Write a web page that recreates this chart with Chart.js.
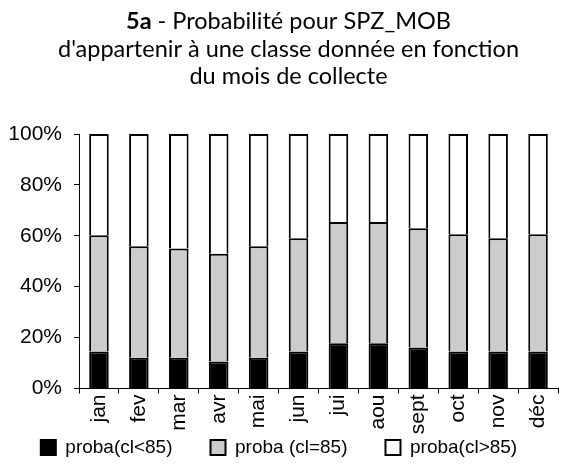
<!DOCTYPE html>
<html>
<head>
<meta charset="utf-8">
<script src="https://cdn.jsdelivr.net/npm/chart.js@4"></script>
<style>
  html, body { margin: 0; padding: 0; background: #fff; }
  #wrap { width: 577px; height: 467px; }
</style>
</head>
<body>
<div id="wrap"><canvas id="chart" width="577" height="467"></canvas></div>
<script>
// months of collection
const mois = ["jan", "fev", "mar", "avr", "mai", "jun", "jui", "aou", "sept", "oct", "nov", "déc"];

// share of each class, in %
const probaInf85 = [14.5, 12.1, 12.1, 10.6, 12.1, 14.5, 17.8, 17.8, 16.1, 14.5, 14.5, 14.5];
const probaEq85  = [45.7, 43.8, 42.9, 42.3, 43.8, 44.5, 47.6, 47.6, 46.9, 46.1, 44.5, 46.1];
const probaSup85 = [39.8, 44.1, 45.0, 47.1, 44.1, 41.0, 34.6, 34.6, 37.0, 39.4, 41.0, 39.4];

const seriesNames = ["proba(cl<85)", "proba (cl=85)", "proba(cl>85)"];
const titleBold = "5a";
const titleLines = [
    " - Probabilité pour SPZ_MOB",
    "d'appartenir à une classe donnée en fonction",
    "du mois de collecte"
];

const sans = "'Liberation Sans', Arial, sans-serif";
const titleFont = "Lato, 'Open Sans', sans-serif";

// title drawn by hand so "5a" can be bold
const titlePlugin = {
    id: "titre",
    afterDraw(chart) {
        const ctx = chart.ctx;
        const cx = chart.width / 2;
        ctx.save();
        ctx.fillStyle = "#000";
        ctx.textBaseline = "alphabetic";
        ctx.textAlign = "left";
        ctx.font = "bold 23.5px " + titleFont;
        const wb = ctx.measureText(titleBold).width;
        ctx.font = "23.5px " + titleFont;
        const wr = ctx.measureText(titleLines[0]).width;
        const x = cx - (wb + wr) / 2;
        ctx.font = "bold 23.5px " + titleFont;
        ctx.fillText(titleBold, x, 29);
        ctx.font = "23.5px " + titleFont;
        ctx.fillText(titleLines[0], x + wb, 29);
        ctx.textAlign = "center";
        ctx.fillText(titleLines[1], cx, 57);
        ctx.fillText(titleLines[2], cx, 84);
        ctx.restore();
    }
};

const ctx = document.getElementById("chart").getContext("2d");
new Chart(ctx, {
    type: "bar",
    data: {
        labels: mois,
        datasets: [
            { label: seriesNames[0], data: probaInf85, backgroundColor: "#000000" },
            { label: seriesNames[1], data: probaEq85, backgroundColor: "#cccccc" },
            { label: seriesNames[2], data: probaSup85, backgroundColor: "#ffffff" }
        ]
    },
    options: {
        responsive: false,
        animation: false,
        layout: { padding: { top: 134, right: 19, bottom: 0, left: 0 } },
        datasets: {
            bar: {
                borderColor: "#000",
                borderWidth: 2,
                barPercentage: 0.49,
                categoryPercentage: 1
            }
        },
        scales: {
            x: {
                stacked: true,
                // keep the axis thin so the legend sits close, and let the labels spill below
                afterFit: s => {
                    s.height = 11.5;
                    s._computeLabelArea = () => null;
                },
                border: { display: true, color: "#000", width: 1 },
                grid: { drawOnChartArea: false, drawTicks: true, tickLength: 5, color: "#000" },
                ticks: {
                    autoSkip: false,
                    minRotation: 90,
                    maxRotation: 90,
                    padding: 1,
                    color: "#000",
                    font: { family: sans, size: 21 }
                }
            },
            y: {
                stacked: true,
                min: 0,
                max: 100,
                afterFit: s => { s.width = 79; },
                border: { display: true, color: "#000", width: 1 },
                grid: { drawOnChartArea: false, drawTicks: true, tickLength: 5, color: "#000" },
                ticks: {
                    stepSize: 20,
                    padding: 12,
                    color: "#000",
                    font: { family: sans, size: 21 },
                    callback: v => v + "%"
                }
            }
        },
        plugins: {
            title: { display: false },
            tooltip: { enabled: false },
            legend: {
                position: "bottom",
                labels: {
                    color: "#000",
                    boxWidth: 15,
                    boxHeight: 15,
                    padding: 38,
                    font: { family: sans, size: 19 }
                }
            }
        }
    },
    plugins: [titlePlugin]
});
</script>
</body>
</html>
